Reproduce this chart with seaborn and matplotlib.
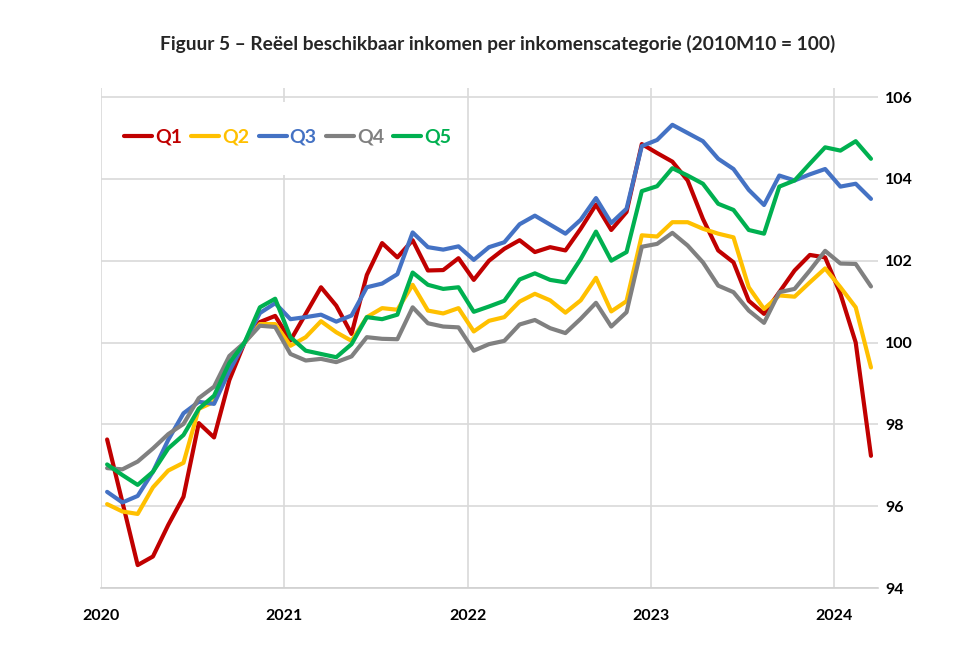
import numpy as np
import pandas as pd
import matplotlib
matplotlib.use("Agg")
import matplotlib.pyplot as plt
from matplotlib.patches import Rectangle
import seaborn as sns

# ---------------- data (2020M01 .. 2024M03) ----------------
months = [f"{y}M{m:02d}" for y in range(2020, 2025) for m in range(1, 13)][:51]

q1 = [97.63, 96.1, 94.56, 94.77, 95.54, 96.23, 98.03, 97.68, 99.08, 100.0,
      100.5, 100.65, 100.05, 100.7, 101.35, 100.9, 100.21, 101.65, 102.43, 102.08,
      102.5, 101.76, 101.77, 102.06, 101.53, 102.0, 102.29, 102.5, 102.21, 102.33,
      102.25, 102.78, 103.37, 102.75, 103.19, 104.85, 104.63, 104.42, 103.96, 103.02,
      102.25, 101.96, 101.02, 100.7, 101.23, 101.76, 102.14, 102.08, 101.19, 100.0, 97.23]
q2 = [96.05, 95.87, 95.81, 96.46, 96.87, 97.06, 98.38, 98.55, 99.4, 100.0,
      100.45, 100.45, 99.92, 100.13, 100.52, 100.25, 100.04, 100.62, 100.84, 100.8,
      101.41, 100.78, 100.71, 100.84, 100.27, 100.53, 100.62, 101.0, 101.19, 101.03,
      100.73, 101.03, 101.58, 100.76, 101.01, 102.62, 102.59, 102.94, 102.94, 102.78,
      102.66, 102.57, 101.35, 100.82, 101.15, 101.12, 101.47, 101.81, 101.35, 100.86, 99.39]
q3 = [96.35, 96.09, 96.25, 96.84, 97.62, 98.27, 98.55, 98.5, 99.3, 100.0,
      100.72, 100.96, 100.57, 100.62, 100.68, 100.51, 100.66, 101.35, 101.44, 101.67,
      102.69, 102.33, 102.27, 102.35, 102.02, 102.33, 102.45, 102.89, 103.1, 102.88,
      102.66, 103.0, 103.53, 102.92, 103.27, 104.8, 104.95, 105.32, 105.12, 104.92,
      104.49, 104.24, 103.73, 103.36, 104.08, 103.96, 104.11, 104.24, 103.81, 103.88, 103.51]
q4 = [96.93, 96.9, 97.09, 97.41, 97.76, 98.01, 98.64, 98.92, 99.67, 100.0,
      100.41, 100.38, 99.72, 99.56, 99.6, 99.52, 99.66, 100.13, 100.09, 100.08,
      100.86, 100.47, 100.39, 100.37, 99.8, 99.96, 100.04, 100.44, 100.55, 100.35,
      100.23, 100.58, 100.97, 100.39, 100.74, 102.34, 102.41, 102.68, 102.37, 101.96,
      101.39, 101.23, 100.78, 100.48, 101.23, 101.31, 101.76, 102.24, 101.93, 101.92, 101.37]
q5 = [97.02, 96.76, 96.52, 96.84, 97.41, 97.74, 98.38, 98.7, 99.5, 100.0,
      100.86, 101.07, 100.13, 99.8, 99.72, 99.64, 99.96, 100.62, 100.57, 100.68,
      101.71, 101.41, 101.31, 101.35, 100.75, 100.88, 101.02, 101.54, 101.69, 101.53,
      101.47, 102.04, 102.71, 102.0, 102.21, 103.7, 103.82, 104.26, 104.08, 103.88,
      103.39, 103.24, 102.75, 102.66, 103.81, 103.96, 104.37, 104.77, 104.69, 104.92, 104.49]

series_names = ["Q1", "Q2", "Q3", "Q4", "Q5"]
series_values = [q1, q2, q3, q4, q5]
colors = ["#C00000", "#FFC000", "#4472C4", "#808080", "#00B050"]

year_labels = ["2020", "2021", "2022", "2023", "2024"]
y_ticks = [94, 96, 98, 100, 102, 104, 106]
title = "Figuur 5 – Reëel beschikbaar inkomen per inkomenscategorie (2010M10 = 100)"

# ---------------- long table ----------------
rows = []
for name, vals in zip(series_names, series_values):
    for i, (m, v) in enumerate(zip(months, vals)):
        rows.append({"pos": i, "month": m, "series": name, "value": v})
df = pd.DataFrame(rows)

# ---------------- style ----------------
sns.set_theme(style="white")
plt.rcParams["font.family"] = ["Lato", "DejaVu Sans"]

W, H = 977, 651
fig = plt.figure(figsize=(W / 100, H / 100), dpi=100)
left_px, right_px, top_px, bot_px = 101, 878, 88, 588
ax = fig.add_axes([left_px / W, 1 - bot_px / H,
                   (right_px - left_px) / W, (bot_px - top_px) / H])

sns.lineplot(data=df, x="pos", y="value", hue="series",
             hue_order=series_names, palette=colors,
             linewidth=3.0, ax=ax, legend=True)

# axes / grid
ax.set_xlim(-0.4, 50.46)
ax.set_ylim(94, 106.22)
year_pos = [12 * k - 0.4 for k in range(len(year_labels))]
ax.set_xticks(year_pos)
ax.set_xticklabels(year_labels, fontweight="bold", fontsize=11.5)
ax.set_yticks(y_ticks)
ax.set_yticklabels([str(t) for t in y_ticks], fontweight="bold", fontsize=11.5)
ax.yaxis.tick_right()
ax.tick_params(axis="both", length=0, colors="black")
ax.tick_params(axis="x", pad=15)
ax.tick_params(axis="y", pad=5)
ax.set_xlabel("")
ax.set_ylabel("")
ax.grid(True, color="#d9d9d9", linewidth=1.2)
ax.set_axisbelow(True)
for s in ["top", "right", "left"]:
    ax.spines[s].set_visible(False)
ax.spines["bottom"].set_color("#d0d0d0")
ax.spines["bottom"].set_linewidth(1.2)

# white legend background (covers grid behind legend)
ax.add_patch(Rectangle((0.004, 0.826), 0.464, 0.146, transform=ax.transAxes,
                       facecolor="white", edgecolor="none", zorder=1.5))

handles, labels = ax.get_legend_handles_labels()
leg = ax.legend(handles, labels, ncol=5, loc="center left",
                bbox_to_anchor=((124 - left_px) / (right_px - left_px),
                                (bot_px - 137) / (bot_px - top_px)),
                frameon=False, borderaxespad=0, borderpad=0,
                handlelength=1.45, handletextpad=0.15, columnspacing=0.47,
                prop={"weight": "bold", "size": 14})
for txt, c in zip(leg.get_texts(), colors):
    txt.set_color(c)
for h in leg.get_lines():
    h.set_linewidth(3.0)

fig.text(497.5 / W, 1 - 44 / H, title, ha="center", va="center",
         fontweight="bold", fontsize=13.8)

fig.savefig("out.png", dpi=100, facecolor="white")
